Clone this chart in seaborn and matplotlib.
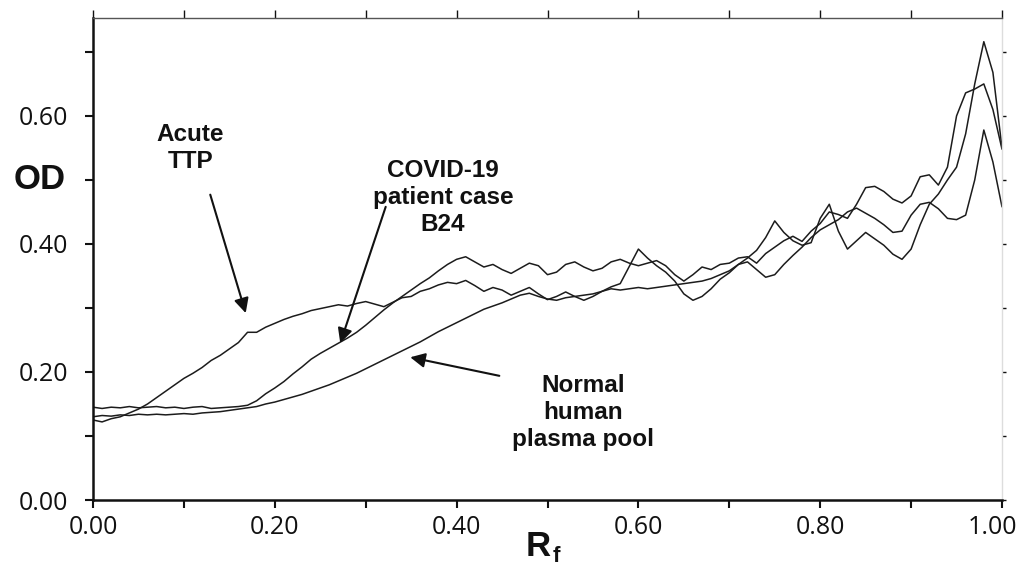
import numpy as np
import pandas as pd
import matplotlib
matplotlib.use("Agg")
import matplotlib.pyplot as plt
import matplotlib.transforms as mtransforms
import seaborn as sns

# ---------------- data ----------------
rf = np.round(np.arange(0, 101) / 100, 2)

od_acute_ttp = [
    0.125, 0.122, 0.127, 0.130, 0.136, 0.142, 0.150, 0.160, 0.170, 0.180,
    0.190, 0.198, 0.207, 0.218, 0.226, 0.236, 0.246, 0.262, 0.262, 0.270,
    0.276, 0.282, 0.287, 0.291, 0.296, 0.299, 0.302, 0.305, 0.303, 0.307,
    0.310, 0.306, 0.302, 0.309, 0.316, 0.318, 0.326, 0.330, 0.336, 0.340,
    0.338, 0.343, 0.335, 0.326, 0.332, 0.328, 0.320, 0.326, 0.332, 0.322,
    0.313, 0.318, 0.325, 0.318, 0.312, 0.318, 0.326, 0.333, 0.338, 0.365,
    0.392, 0.378, 0.366, 0.356, 0.342, 0.322, 0.312, 0.318, 0.330, 0.345,
    0.355, 0.368, 0.378, 0.390, 0.410, 0.436, 0.418, 0.405, 0.398, 0.402,
    0.440, 0.462, 0.420, 0.392, 0.405, 0.418, 0.408, 0.398, 0.384, 0.376,
    0.392, 0.430, 0.462, 0.478, 0.500, 0.520, 0.572, 0.650, 0.716, 0.668,
    0.550,
]

od_covid_b24 = [
    0.145, 0.143, 0.145, 0.144, 0.146, 0.144, 0.145, 0.146, 0.144, 0.145,
    0.143, 0.145, 0.146, 0.143, 0.144, 0.145, 0.146, 0.148, 0.155, 0.166,
    0.175, 0.185, 0.197, 0.208, 0.220, 0.229, 0.237, 0.245, 0.253, 0.262,
    0.273, 0.285, 0.297, 0.308, 0.318, 0.328, 0.338, 0.347, 0.358, 0.368,
    0.376, 0.380, 0.372, 0.364, 0.368, 0.360, 0.354, 0.362, 0.370, 0.366,
    0.352, 0.356, 0.368, 0.372, 0.364, 0.358, 0.362, 0.372, 0.376, 0.370,
    0.366, 0.370, 0.374, 0.366, 0.352, 0.342, 0.352, 0.364, 0.360, 0.368,
    0.370, 0.378, 0.380, 0.370, 0.385, 0.395, 0.405, 0.412, 0.404, 0.420,
    0.432, 0.450, 0.446, 0.440, 0.462, 0.488, 0.490, 0.482, 0.470, 0.464,
    0.475, 0.505, 0.508, 0.492, 0.520, 0.600, 0.636, 0.642, 0.650, 0.610,
    0.548,
]

od_normal_pool = [
    0.130, 0.132, 0.131, 0.133, 0.132, 0.134, 0.133, 0.134, 0.133, 0.134,
    0.135, 0.134, 0.136, 0.137, 0.138, 0.140, 0.142, 0.144, 0.146, 0.150,
    0.153, 0.157, 0.161, 0.165, 0.170, 0.175, 0.180, 0.186, 0.192, 0.198,
    0.205, 0.212, 0.219, 0.226, 0.233, 0.240, 0.247, 0.255, 0.263, 0.270,
    0.277, 0.284, 0.291, 0.298, 0.303, 0.308, 0.314, 0.320, 0.323, 0.318,
    0.314, 0.312, 0.316, 0.318, 0.320, 0.322, 0.326, 0.330, 0.328, 0.330,
    0.332, 0.330, 0.332, 0.334, 0.336, 0.338, 0.340, 0.342, 0.346, 0.352,
    0.358, 0.368, 0.372, 0.360, 0.348, 0.352, 0.368, 0.382, 0.395, 0.410,
    0.422, 0.430, 0.438, 0.450, 0.456, 0.448, 0.440, 0.430, 0.418, 0.420,
    0.445, 0.462, 0.465, 0.455, 0.440, 0.438, 0.445, 0.500, 0.578, 0.528,
    0.458,
]

series_names = ["Acute TTP", "COVID-19 patient case B24", "Normal human plasma pool"]
y_ticks_major = [0.0, 0.2, 0.4, 0.6]
y_ticks_minor = [0.1, 0.3, 0.5, 0.7]
x_ticks_major = [0.0, 0.2, 0.4, 0.6, 0.8, 1.0]
x_ticks_minor = [0.1, 0.3, 0.5, 0.7, 0.9]

df = pd.concat([
    pd.DataFrame({"Rf": rf, "OD": od_acute_ttp, "sample": series_names[0]}),
    pd.DataFrame({"Rf": rf, "OD": od_covid_b24, "sample": series_names[1]}),
    pd.DataFrame({"Rf": rf, "OD": od_normal_pool, "sample": series_names[2]}),
])

# ---------------- figure ----------------
sns.set_theme(style="white")
plt.rcParams["font.family"] = ["Open Sans", "DejaVu Sans"]

W, H = 1019, 569
fig = plt.figure(figsize=(W / 100, H / 100), dpi=100)
ax = fig.add_axes([93 / W, 1 - 500 / H, (1002 - 93) / W, (500 - 18) / H])

sns.lineplot(data=df, x="Rf", y="OD", hue="sample", units="sample",
             estimator=None, palette=["#1c1c1c"] * 3, linewidth=1.1,
             legend=False, ax=ax, sort=False)

ax.set_xlim(0, 1.0)
ax.set_ylim(0, 0.753)
ax.set_xlabel("")
ax.set_ylabel("")

ax.set_xticks(x_ticks_major)
ax.set_xticks(x_ticks_minor, minor=True)
ax.set_yticks(y_ticks_major)
ax.set_yticks(y_ticks_minor, minor=True)
ax.set_xticklabels([f"{v:.2f}" for v in x_ticks_major])
ax.set_yticklabels([f"{v:.2f}" for v in y_ticks_major])

for s in ["left", "bottom"]:
    ax.spines[s].set_color("#111111")
    ax.spines[s].set_linewidth(1.8)
ax.spines["top"].set_color("#555555")
ax.spines["top"].set_linewidth(1.0)
ax.spines["right"].set_color("#dddddd")
ax.spines["right"].set_linewidth(1.0)

ax.tick_params(axis="both", which="both", direction="out", colors="#111111",
               labelcolor="#111111", labelsize=18)
ax.tick_params(axis="x", which="both", bottom=True, top=True, length=6, width=1.5, pad=5)
ax.tick_params(axis="y", which="both", left=True, right=True, length=6, width=1.5, pad=12)
ax.tick_params(axis="x", which="both", top=True, labeltop=False)
ax.tick_params(axis="y", which="both", right=True, labelright=False)

# lighter top/right ticks
for line in ax.xaxis.get_majorticklines()[1::2] + ax.xaxis.get_minorticklines()[1::2]:
    line.set_color("#777777")
    line.set_markeredgewidth(1.0)
for line in ax.yaxis.get_majorticklines()[1::2] + ax.yaxis.get_minorticklines()[1::2]:
    line.set_color("#555555")
    line.set_markeredgewidth(1.0)
    line.set_markersize(3)

# keep the last x tick label inside the figure (as in the reference)
last = ax.get_xticklabels()[-1]
last.set_transform(last.get_transform() +
                   mtransforms.ScaledTranslation(-10 / 100, 0, fig.dpi_scale_trans))

# axis titles
fig.text(40 / W, 1 - 180 / H, "OD", family="Liberation Sans", fontweight="bold",
         fontsize=25, ha="center", va="center", color="#111111")
fig.text(538 / W, 1 - 547 / H, "R", family="Liberation Sans", fontweight="bold",
         fontsize=25, ha="center", va="center", color="#111111")
fig.text(556 / W, 1 - 556 / H, "f", family="Liberation Sans", fontweight="bold",
         fontsize=16, ha="center", va="center", color="#111111")

# annotations
lab_kw = dict(family="Liberation Sans", fontweight="bold", fontsize=17.5,
              ha="center", va="center", color="#111111", linespacing=1.22)
ax.text(0.107, 0.55, "Acute\nTTP", **lab_kw)
ax.text(0.385, 0.473, "COVID-19\npatient case\nB24", **lab_kw)
ax.text(0.539, 0.136, "Normal\nhuman\nplasma pool", **lab_kw)

arr = dict(arrowstyle="-|>", color="#111111", lw=1.5, mutation_scale=22,
           shrinkA=0, shrinkB=0)
ax.annotate("", xy=(0.168, 0.292), xytext=(0.129, 0.477), arrowprops=arr)
ax.annotate("", xy=(0.272, 0.245), xytext=(0.322, 0.458), arrowprops=arr)
ax.annotate("", xy=(0.349, 0.223), xytext=(0.447, 0.194), arrowprops=arr)

fig.savefig("out.png", dpi=100)
